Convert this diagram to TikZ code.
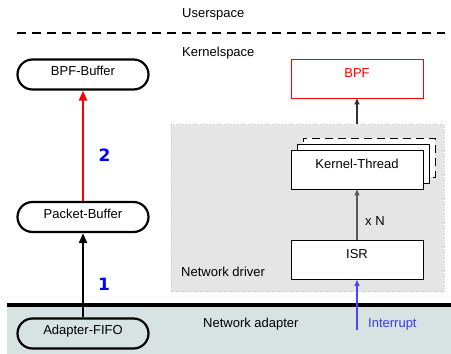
\documentclass[tikz,border=0pt]{standalone}
\usepackage{fontspec}
\setmainfont{Liberation Sans}
\newfontfamily\numfont{DejaVu Sans}
\usetikzlibrary{arrows.meta,calc}
\definecolor{adapterbg}{RGB}{214,227,226}
\definecolor{driverbg}{RGB}{229,229,229}
\definecolor{irqblue}{RGB}{70,70,255}

\begin{document}
\begin{tikzpicture}[x=1pt,y=-1pt,font=\fontsize{13}{15}\selectfont,
    buffer/.style={draw,line width=2.2pt,rounded corners=15pt,minimum width=131pt,minimum height=30pt,inner sep=0pt,text height=9pt,text depth=7pt},
    block/.style={draw,fill=white,line width=0.9pt,minimum width=132pt,minimum height=39pt,inner sep=0pt,text height=9pt,text depth=12pt},
    flow/.style={-{Triangle[length=10pt,width=8pt]},line width=2.2pt},
    thinflow/.style={-{Triangle[length=6pt,width=5pt]},line width=1.2pt},
    caption/.style={anchor=base west,inner sep=0pt},
    stepnum/.style={font=\numfont\bfseries\fontsize{17}{20}\selectfont,text=blue}]
    \useasboundingbox(0,0)rectangle(451,354);
    % user / kernel border
    \node[caption](user) at (182,17.5){Userspace};
    \draw[line width=1.6pt,dash pattern=on 9pt off 6pt](17,33)--(445,33);
    \node[caption](kernel) at (182,56.5){Kernelspace};
    % adapter area
    \fill[adapterbg](7,306)rectangle(451,354);
    \draw[line width=4pt](7,305)--(451,305);
    \node[caption](adapter) at (203,327){Network adapter};
    % driver area
    \node[draw=black!20,dotted,fill=driverbg,minimum width=273pt,minimum height=167pt,inner sep=0pt](driver) at (307.5,208){};
    \node[caption](drvlabel) at (181,276){Network driver};
    % buffers
    \node[buffer](bpfbuf) at (83,74.5){BPF-Buffer};
    \node[buffer](pktbuf) at (83,217){Packet-Buffer};
    \node[buffer,fill=adapterbg](fifo) at (83,333.5){Adapter-FIFO};
    % filter and threads
    \node[block,draw=red,text=red](bpf) at (357,78.5){BPF};
    \node[block,dash pattern=on 8pt off 5pt](thread3) at (369,157.5){};
    \node[block](thread2) at (363,163.5){};
    \node[block](thread) at (357,169.5){Kernel-Thread};
    \node[block](isr) at (357,260){ISR};
    \coordinate(irq) at (357,330);
    % arrows
    \draw[flow](fifo)--(pktbuf);
    \draw[flow,red](pktbuf)--(bpfbuf);
    \node[stepnum](one) at (104,284){1};
    \node[stepnum](two) at (104.5,155){2};
    \draw[thinflow,black!80](bpf|-driver.north)--(bpf);
    \draw[thinflow,black!65](isr)--(thread);
    \node[caption](times) at (365,225){x N};
    \draw[thinflow,irqblue](irq)--(isr);
    \node[caption,text=irqblue!85!black](interrupt) at (368,327){Interrupt};
\end{tikzpicture}
\end{document}
